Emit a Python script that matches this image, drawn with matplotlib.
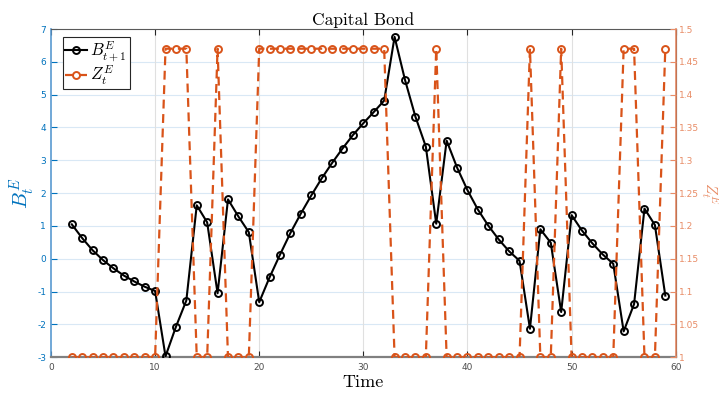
import numpy as np
import matplotlib
matplotlib.use("Agg")
import matplotlib.pyplot as plt

plt.rcParams['mathtext.fontset'] = 'cm'
plt.rcParams['axes.unicode_minus'] = False

# data
t = list(range(2, 60))
bond = [1.05, 0.63, 0.26, -0.04, -0.29, -0.51, -0.69, -0.85, -0.98,
        -2.97, -2.07, -1.27, 1.63, 1.11, -1.05, 1.81, 1.29, 0.81,
        -1.32, -0.56, 0.13, 0.79, 1.38, 1.93, 2.45, 2.92, 3.36, 3.77,
        4.13, 4.47, 4.82, 6.76, 5.45, 4.33, 3.42, 1.07, 3.60, 2.78,
        2.09, 1.50, 1.01, 0.59, 0.23, -0.06, -2.13, 0.90, 0.49, -1.62,
        1.33, 0.86, 0.47, 0.13, -0.15, -2.21, -1.38, 1.53, 1.03, -1.12]
high_times = [11, 12, 13, 16] + list(range(20, 33)) + [37, 46, 49, 55, 56, 59]
z = [1.47 if ti in high_times else 1.0 for ti in t]

blue = (0.0, 0.447, 0.741)
orange = (0.85, 0.325, 0.098)
orange_light = (0.91, 0.55, 0.40)

fig = plt.figure(figsize=(7.19, 3.99), dpi=100)
ax = fig.add_axes([0.0709, 0.1045, 0.8689, 0.8228])
ax2 = ax.twinx()

l1, = ax.plot(t, bond, '-o', color='k', lw=1.5, ms=5, mfc='none', mew=1.4,
              label=r'$B_{t+1}^E$', zorder=3)
l2, = ax2.plot(t, z, '--o', color=orange, lw=1.6, ms=5, mfc='none', mew=1.4,
               dashes=(4, 2.5), label=r'$Z_t^E$')

ax.set_xlim(0, 60)
ax.set_ylim(-3, 7)
ax2.set_ylim(1, 1.5)
ax.set_xticks(np.arange(0, 61, 10))
ax.set_yticks(np.arange(-3, 8, 1))
ax2.set_yticks(np.arange(1, 1.51, 0.05))
ax2.set_yticklabels(['1', '1.05', '1.1', '1.15', '1.2', '1.25', '1.3',
                     '1.35', '1.4', '1.45', '1.5'])

# grid like matlab
for yv in np.arange(-2, 7, 1):
    ax.axhline(yv, color=(0.85, 0.91, 0.96), lw=0.8, zorder=0)
for xv in range(10, 60, 10):
    ax.axvline(xv, color=(0.88, 0.88, 0.88), lw=0.8, zorder=0)

ax.tick_params(axis='x', direction='in', length=4, labelsize=6.5, colors=(0.15, 0.15, 0.15),
               top=True, width=0.8, pad=4)
ax.tick_params(axis='y', direction='in', length=4, labelsize=6.5, colors=blue, width=0.8)
ax2.tick_params(axis='y', direction='in', length=4, labelsize=6.5, colors=orange_light,
                width=0.8, pad=2)
ax.tick_params(axis='x', labelcolor=(0.3, 0.3, 0.3))

ax.spines['bottom'].set_color((0.5, 0.5, 0.5))
ax.spines['bottom'].set_linewidth(1.6)
ax.spines['top'].set_color((0.35, 0.35, 0.35))
ax.spines['left'].set_color((0.35, 0.6, 0.82))
ax.spines['left'].set_linewidth(1.2)
ax2.spines['right'].set_color(orange_light)
ax2.spines['right'].set_linewidth(1.2)
ax2.spines['left'].set_visible(False)
ax2.spines['top'].set_visible(False)
ax2.spines['bottom'].set_visible(False)

ax.set_title('Capital Bond', family='cmr10', fontsize=12.5, pad=3)
ax.set_xlabel('Time', family='cmr10', fontsize=13, labelpad=2)
ax.set_ylabel(r'$B_t^E$', color=blue, fontsize=15, va='center')
ax.yaxis.set_label_coords(-0.046, 0.5)
ax2.set_ylabel(r'$Z_t^E$', color=orange_light, fontsize=11, rotation=-90,
               va='center', ha='center')
ax2.yaxis.set_label_coords(1.054, 0.5)

leg = ax2.legend([l1, l2], [r'$B_{t+1}^E$', r'$Z_t^E$'], loc='upper left',
                 bbox_to_anchor=(0.019, 0.975), fontsize=12, handlelength=1.3,
                 handletextpad=0.2, borderpad=0.15, labelspacing=0.0,
                 fancybox=False, framealpha=1, borderaxespad=0)
leg.get_frame().set_edgecolor((0.15, 0.15, 0.15))
leg.get_frame().set_linewidth(0.8)

fig.savefig('out.png', dpi=100)
